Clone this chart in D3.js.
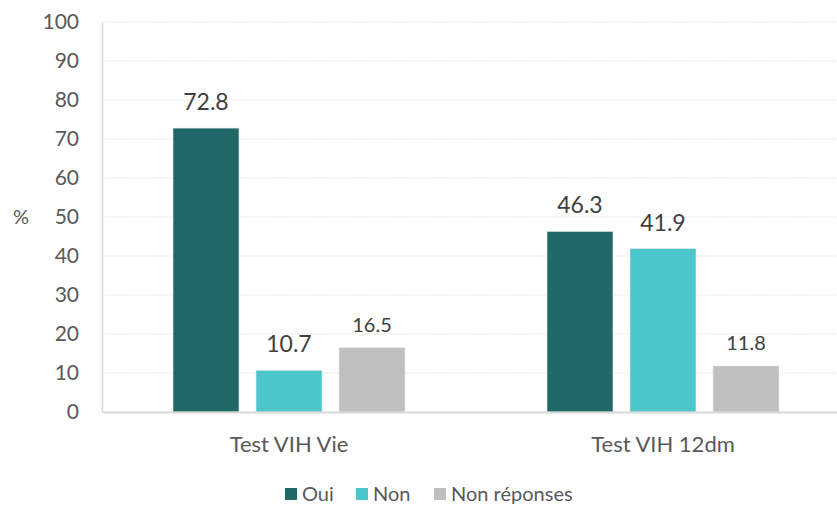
<!DOCTYPE html>
<html>
<head>
<meta charset="utf-8">
<script src="https://cdn.jsdelivr.net/npm/d3@7"></script>
<style>
  body { margin: 0; background: #fff; }
  text { font-family: Lato, "Open Sans", sans-serif; }
</style>
</head>
<body>
<svg width="837" height="507"></svg>
<script>
var categories = ["Test VIH Vie", "Test VIH 12dm"];
var series = ["Oui", "Non", "Non réponses"];
var oui = [72.8, 46.3];
var non = [10.7, 41.9];
var nonReponses = [16.5, 11.8];
var yTicks = [0, 10, 20, 30, 40, 50, 60, 70, 80, 90, 100];
var colors = ["#216869", "#4BC6CA", "#BFBFBF"];

var values = [oui, non, nonReponses];
var rows = [];
categories.forEach(function(c, i) {
    series.forEach(function(s, j) {
        rows.push({ cat: c, serie: s, value: values[j][i], idx: j });
    });
});

var svg = d3.select("svg"),
    margin = {top: 22, left: 102, bottom: 95},
    plotRight = 850,
    height = 507 - margin.top - margin.bottom;

var x0 = d3.scaleBand()
    .domain(categories)
    .range([margin.left, plotRight]);

var x1 = d3.scaleBand()
    .domain(series)
    .range([71, 303])
    .paddingInner(0.205);

var y = d3.scaleLinear()
    .domain([0, 100])
    .range([margin.top + height, margin.top]);

// grid lines
svg.append("g")
    .selectAll("line")
    .data(yTicks.filter(function(d) { return d > 0; }))
    .enter().append("line")
    .attr("x1", margin.left)
    .attr("x2", plotRight)
    .attr("y1", function(d) { return y(d); })
    .attr("y2", function(d) { return y(d); })
    .attr("stroke", "#d9d9d9")
    .attr("stroke-width", 1)
    .attr("stroke-dasharray", "1,1.5");

// y axis
var yAxis = svg.append("g")
    .attr("transform", "translate(" + margin.left + ",0)")
    .call(d3.axisLeft(y).tickValues(yTicks).tickSize(0).tickPadding(23));
yAxis.select(".domain").attr("stroke", "#d9d9d9").attr("stroke-width", 1.5);
yAxis.selectAll("text")
    .attr("fill", "#595959")
    .style("font-size", "21px")
    .style("font-family", "Lato, sans-serif");

// bars
svg.append("g")
    .selectAll("rect")
    .data(rows)
    .enter().append("rect")
    .attr("x", function(d) { return x0(d.cat) + x1(d.serie); })
    .attr("y", function(d) { return y(d.value); })
    .attr("width", x1.bandwidth())
    .attr("height", function(d) { return y(0) - y(d.value); })
    .attr("fill", function(d) { return colors[d.idx]; })
    .attr("stroke", "#e8e8e8")
    .attr("stroke-width", 0.6);

// x axis
var xAxis = svg.append("g")
    .attr("transform", "translate(0," + y(0) + ")")
    .call(d3.axisBottom(x0).tickSize(0).tickPadding(24));
xAxis.select(".domain").attr("stroke", "#d9d9d9").attr("stroke-width", 2);
xAxis.selectAll("text")
    .attr("fill", "#595959")
    .style("font-size", "22px")
    .style("font-family", "Lato, sans-serif");

// value labels
svg.append("g")
    .selectAll("text")
    .data(rows)
    .enter().append("text")
    .attr("x", function(d) { return x0(d.cat) + x1(d.serie) + x1.bandwidth() / 2; })
    .attr("y", function(d) { return y(d.value) - (d.idx === 2 ? 16 : 18); })
    .attr("text-anchor", "middle")
    .attr("fill", "#404040")
    .style("font-size", function(d) { return d.idx === 2 ? "20px" : "23px"; })
    .text(function(d) { return d.value.toFixed(1); });

// y label
svg.append("text")
    .attr("x", 21)
    .attr("y", y(50) + 7)
    .attr("text-anchor", "middle")
    .attr("fill", "#595959")
    .style("font-size", "20px")
    .text("%");

// legend
var legendX = [285, 356, 434];
var legend = svg.append("g")
    .selectAll("g")
    .data(series)
    .enter().append("g")
    .attr("transform", function(d, i) { return "translate(" + legendX[i] + ",488)"; });
legend.append("rect")
    .attr("width", 12)
    .attr("height", 12)
    .attr("fill", function(d, i) { return colors[i]; });
legend.append("text")
    .attr("x", 17)
    .attr("y", 13)
    .attr("fill", "#595959")
    .style("font-size", "20px")
    .text(function(d) { return d; });
</script>
</body>
</html>
